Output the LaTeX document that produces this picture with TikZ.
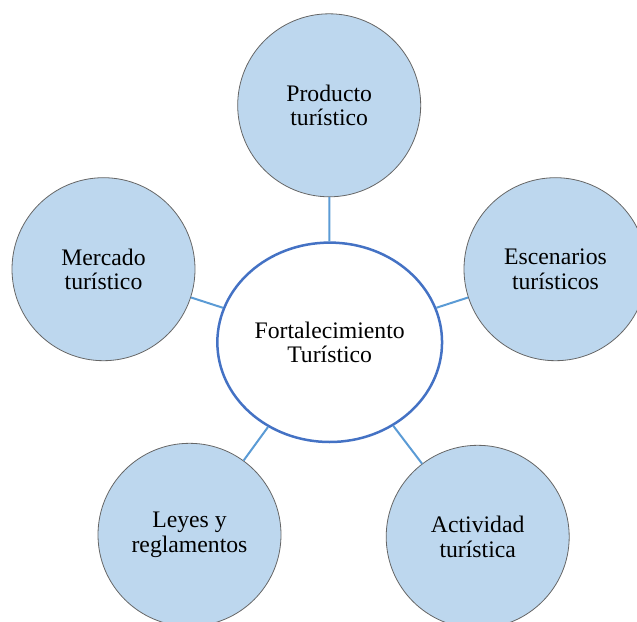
\documentclass[tikz,border=0pt]{standalone}
\usepackage{fontspec}
\setmainfont{Liberation Serif}
\usetikzlibrary{shapes.geometric}
\definecolor{relleno}{RGB}{189,215,238}
\definecolor{borde}{RGB}{68,114,196}
\definecolor{enlace}{RGB}{91,155,213}

\begin{document}
\begin{tikzpicture}
            [x=1pt,y=-1pt,every node/.style={align=center,font=\fontsize{23.7}{24.4}\selectfont},
             tema/.style={circle,minimum size=183pt,inner sep=0pt,fill=relleno,draw=black!60,line width=0.8pt}]
            \useasboundingbox (0,0) rectangle (637,621);
            \node[ellipse,minimum width=224.7pt,minimum height=199.4pt,inner sep=0pt,draw=borde,line width=2.5pt] (0) at (329.7,342.3) {Fortalecimiento\\Turístico};
            \node[tema] (1) at (329.2,105.3) {Producto\\turístico};
            \node[tema] (2) at (555.5,269.2) {Escenarios\\turísticos};
            \node[tema] (3) at (477.7,536.8) {Actividad\\turística};
            \node[tema] (4) at (189.5,534.8) {Leyes y\\reglamentos};
            \node[tema] (5) at (103.5,269.2) {Mercado\\turístico};
            %
            \draw[line width=2pt, enlace] (0) -- (1);
            \draw[line width=2pt, enlace] (0) -- (2);
            \draw[line width=2pt, enlace] (0) -- (3);
            \draw[line width=2pt, enlace] (0) -- (4);
            \draw[line width=2pt, enlace] (0) -- (5);
        \end{tikzpicture}
\end{document}
